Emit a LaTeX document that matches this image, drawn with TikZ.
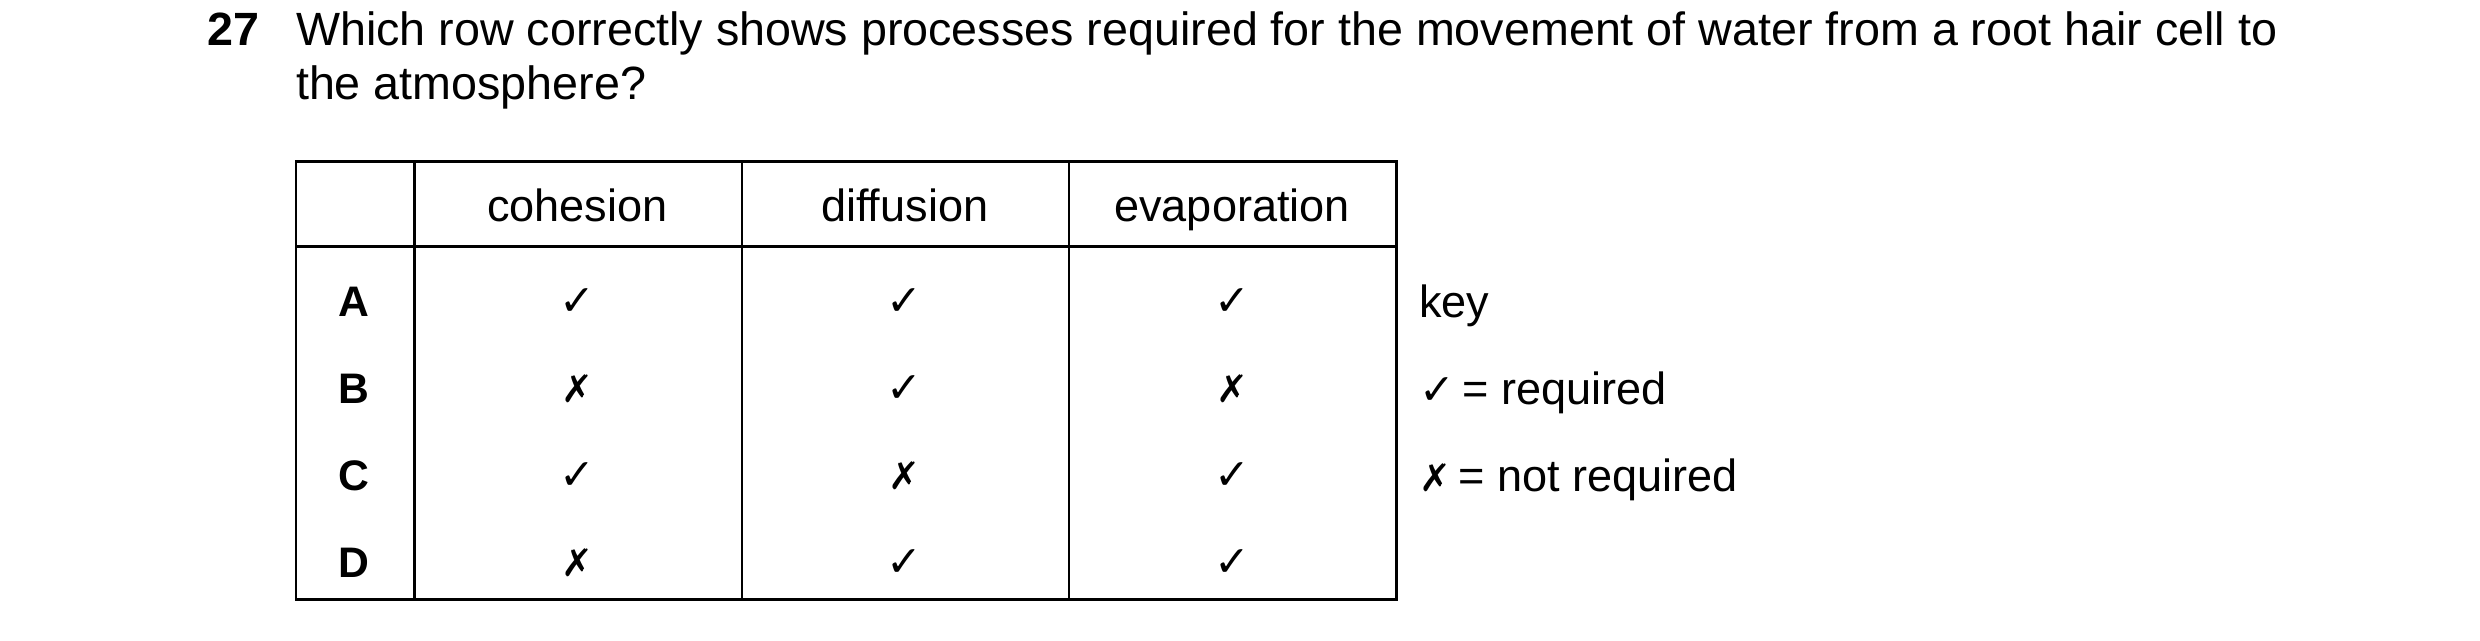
\documentclass[tikz,border=0pt]{standalone}
\usepackage{fontspec}
\setmainfont{Liberation Sans}
\newfontfamily\symf{DejaVu Sans}
\begin{document}
\begin{tikzpicture}[x=1pt,y=-1pt,
  q/.style={anchor=base west,inner sep=0pt,font=\fontsize{29.5}{34}\selectfont},
  t/.style={inner sep=0pt,font=\fontsize{28.5}{32}\selectfont},
  h/.style={t,anchor=base},
  lab/.style={inner sep=0pt,font=\fontsize{27}{30}\selectfont\bfseries},
  grid/.style={line width=1.6pt}]
\useasboundingbox (0,0) rectangle (1568,405);
\node[q,font=\fontsize{29.5}{34}\selectfont\bfseries] (num) at (131,29) {27};
\node[q] (l1) at (187,29) {Which row correctly shows processes required for the movement of water from a root hair cell to};
\node[q] (l2) at (187,63) {the atmosphere?};
\draw[grid] (187,102) rectangle (883,379);
\draw[grid] (187,156) -- (883,156);
\draw[grid] (262,102) -- (262,379);
\draw[grid] (469,102) -- (469,379);
\draw[grid] (676,102) -- (676,379);
\node[h] (h1) at (365,140) {cohesion};
\node[h] (h2) at (572,140) {diffusion};
\node[h] (h3) at (779,140) {evaporation};
\def\Y{{\symf\bfseries\fontsize{27}{30}\selectfont ✓}}\def\N{{\symf\bfseries\fontsize{24}{30}\selectfont ✗}}
\node[lab] (A) at (224,191) {A};
\node[lab] (B) at (224,246) {B};
\node[lab] (C) at (224,301) {C};
\node[lab] (D) at (224,356) {D};
\foreach \r/\y/\a/\b/\c in {a/191/\Y/\Y/\Y, b/246/\N/\Y/\N, c/301/\Y/\N/\Y, d/356/\N/\Y/\Y}{
  \node[t] (\r1) at (365,\y) {\a};
  \node[t] (\r2) at (572,\y) {\b};
  \node[t] (\r3) at (779,\y) {\c};
}
\node[t,anchor=base west] (k0) at (897,201) {key};
\node[t,anchor=base west] (k1) at (897,256) {\Y\,= required};
\node[t,anchor=base west] (k2) at (897,311) {\N\,= not required};
\end{tikzpicture}
\end{document}
